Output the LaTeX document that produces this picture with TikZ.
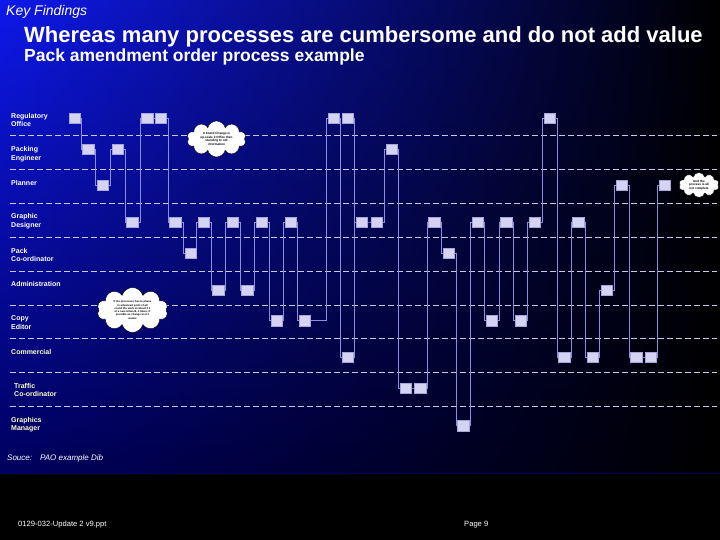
\documentclass[tikz,border=0pt]{standalone}
\usepackage{fontspec}
\setmainfont{Liberation Sans}
\usetikzlibrary{shapes.symbols, fadings, calc}

\definecolor{topblue}{RGB}{15,25,235}
\definecolor{midblue}{RGB}{5,10,195}
\definecolor{lowblue}{RGB}{0,0,95}
\definecolor{wire}{RGB}{140,140,225}
\definecolor{boxfill}{RGB}{212,212,242}
\definecolor{boxline}{RGB}{165,165,215}
\definecolor{dashline}{RGB}{200,200,235}
\definecolor{paleyellow}{RGB}{255,255,200}

\tikzfading[name=faderight, left color=transparent!100, middle color=transparent!85, right color=transparent!0]

\tikzset{
  task/.style={draw=boxline, fill=boxfill, line width=0.4pt, minimum width=11pt, minimum height=10pt, inner sep=0pt},
  flow/.style={draw=wire, line width=0.6pt},
  lane/.style={draw=dashline, line width=0.9pt, dash pattern=on 6pt off 3pt},
  role/.style={anchor=west, inner sep=0pt, align=left, text=white, font=\bfseries\fontsize{7}{8.5}\selectfont},
  note/.style={cloud, cloud puffs=10, cloud ignores aspect, draw=black, fill=white, line width=0.4pt, inner sep=0pt, align=center, font=\bfseries\fontsize{3.1}{3.6}\selectfont}
}

\newcommand{\link}[2]{\draw[flow] (#1.east) -| ([xshift=-1.5pt]#2.west) -- (#2.west);}

\begin{document}
\begin{tikzpicture}[x=1pt, y=-1pt]
\useasboundingbox (0,0) rectangle (720,540);

% background
\fill[black] (0,0) rectangle (720,540);
\shade[top color=topblue, middle color=midblue, bottom color=lowblue] (0,0) rectangle (720,473);
\fill[black, path fading=faderight] (0,0) rectangle (720,473);

% headings
\node[anchor=west, inner sep=0pt, text=white, font=\itshape\fontsize{14}{16}\selectfont] (key) at (6,12) {Key Findings};
\node[anchor=west, inner sep=0pt, text=white, font=\bfseries\fontsize{22}{24}\selectfont] (title) at (24,37) {Whereas many processes are cumbersome and do not add value};
\node[anchor=west, inner sep=0pt, text=white, font=\bfseries\fontsize{17.5}{19}\selectfont] (subtitle) at (24,57) {Pack amendment order process example};

% lanes
\foreach \y in {135,169,203,237,271,305,338,372,406}
  \draw[lane] (10,\y) -- (717,\y);

\node[role] (regulatory) at (11,120) {Regulatory\\Office};
\node[role] (packing) at (11,154) {Packing\\Engineer};
\node[role] (planner) at (11,183) {Planner};
\node[role] (graphic) at (11,221) {Graphic\\Designer};
\node[role] (packco) at (11,255) {Pack\\Co-ordinator};
\node[role] (admin) at (11,284) {Administration};
\node[role] (copy) at (11,322.5) {Copy\\Editor};
\node[role, text=paleyellow] (commercial) at (11,352) {Commercial};
\node[role, text=paleyellow] (traffic) at (14,390) {Traffic\\Co-ordinator};
\node[role, text=paleyellow] (graphicsman) at (11,424.5) {Graphics\\Manager};

% tasks
\node[task] (reg1) at (74.5,118) {};
\node[task] (reg2) at (147,118) {};
\node[task] (reg3) at (160.5,118) {};
\node[task] (reg4) at (333.5,118) {};
\node[task] (reg5) at (347.5,118) {};
\node[task] (reg6) at (549.5,118) {};

\node[task] (pack1) at (88,149) {};
\node[task] (pack2) at (117.5,149) {};
\node[task] (pack3) at (391.5,149) {};

\node[task] (plan1) at (102.5,185) {};
\node[task] (plan2) at (621.5,185.5) {};
\node[task] (plan3) at (664.5,185.5) {};

\node[task] (gd1) at (132,222) {};
\node[task] (gd2) at (175,222) {};
\node[task] (gd3) at (203.5,222) {};
\node[task] (gd4) at (232.5,222) {};
\node[task] (gd5) at (261.5,222) {};
\node[task] (gd6) at (290.5,222) {};
\node[task] (gd7) at (361.5,222) {};
\node[task] (gd8) at (376.5,222) {};
\node[task] (gd9) at (434,222) {};
\node[task] (gd10) at (477.5,222) {};
\node[task] (gd11) at (506,222) {};
\node[task] (gd12) at (534.5,222) {};
\node[task] (gd13) at (578,222) {};

\node[task] (pco1) at (190.5,253) {};
\node[task] (pco2) at (448.5,253) {};

\node[task] (adm1) at (218,290) {};
\node[task] (adm2) at (247,290) {};
\node[task] (adm3) at (606.5,290) {};

\node[task] (copy1) at (276.5,320.5) {};
\node[task] (copy2) at (304.5,320.5) {};
\node[task] (copy3) at (491.5,320.5) {};
\node[task] (copy4) at (520.5,320.5) {};

\node[task] (com1) at (347.5,357) {};
\node[task] (com2) at (564,357) {};
\node[task] (com3) at (592.5,357) {};
\node[task] (com4) at (636,357) {};
\node[task] (com5) at (650.5,357) {};

\node[task] (traf1) at (405.5,388) {};
\node[task] (traf2) at (420,388) {};

\node[task] (gman1) at (463,425.5) {};

% draw wires
\link{reg1}{pack1}
\link{pack1}{plan1}
\link{plan1}{pack2}
\link{pack2}{gd1}
\link{gd1}{reg2}
\link{reg2}{reg3}
\link{reg3}{gd2}
\link{gd2}{pco1}
\link{pco1}{gd3}
\link{gd3}{adm1}
\link{adm1}{gd4}
\link{gd4}{adm2}
\link{adm2}{gd5}
\link{gd5}{copy1}
\link{copy1}{gd6}
\link{gd6}{copy2}
\link{copy2}{reg4}
\link{reg4}{com1}
\link{com1}{gd7}
\link{reg5}{gd7}
\link{gd7}{gd8}
\link{gd8}{pack3}
\link{pack3}{traf1}
\link{traf1}{traf2}
\link{traf2}{gd9}
\link{gd9}{pco2}
\link{pco2}{gman1}
\link{gman1}{gd10}
\link{gd10}{copy3}
\link{copy3}{gd11}
\link{gd11}{copy4}
\link{copy4}{gd12}
\link{gd12}{reg6}
\link{reg6}{com2}
\link{com2}{gd13}
\link{gd13}{com3}
\link{com3}{adm3}
\link{adm3}{plan2}
\link{plan2}{com4}
\link{com4}{com5}
\link{com5}{plan3}

% boxes again, over the wires
\foreach \t in {reg1,reg2,reg3,reg4,reg5,reg6,pack1,pack2,pack3,plan1,plan2,plan3,
  gd1,gd2,gd3,gd4,gd5,gd6,gd7,gd8,gd9,gd10,gd11,gd12,gd13,pco1,pco2,adm1,adm2,adm3,
  copy1,copy2,copy3,copy4,com1,com2,com3,com4,com5,traf1,traf2,gman1}
  \draw[draw=boxline, fill=boxfill, line width=0.4pt] (\t.north west) rectangle (\t.south east);

% comments
\node[note, minimum width=59pt, minimum height=36pt] (brandnote) at (216.5,139) {A brand Change is\\up-scale 2 Office then\\standing to old\\information};
\node[note, minimum width=71pt, minimum height=45pt, font=\bfseries\fontsize{2.7}{3.3}\selectfont] (copynote) at (132.5,310) {If the processes has to phase\\in advanced point of all\\round the work involved 2 3\\of a new Artwork, it takes, if\\possible an change an 2 3\\weeks};
\node[note, minimum width=40pt, minimum height=25pt] (plannote) at (699,185) {And the\\process is all\\not complete};

% footer
\node[anchor=west, inner sep=0pt, text=white, font=\itshape\fontsize{8}{9}\selectfont] (source) at (7,458) {Souce:\hspace{8pt}PAO example Dib};
\node[anchor=west, inner sep=0pt, text=white, font=\fontsize{7.6}{9}\selectfont] (file) at (18,525) {0129-032-Update 2 v9.ppt};
\node[anchor=west, inner sep=0pt, text=white, font=\fontsize{7.6}{9}\selectfont] (page) at (464,525) {Page 9};
\end{tikzpicture}
\end{document}
